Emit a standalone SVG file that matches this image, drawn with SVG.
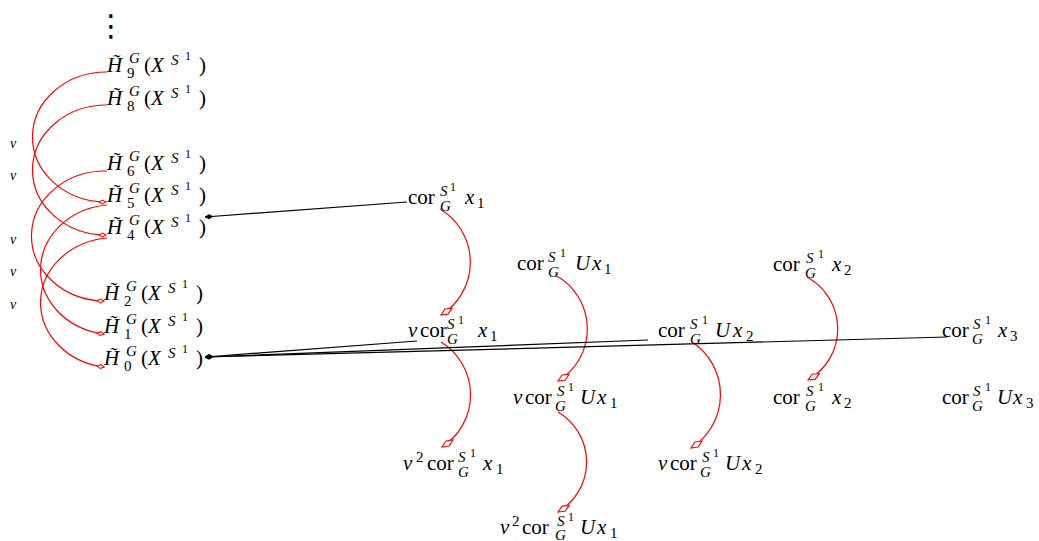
<svg xmlns="http://www.w3.org/2000/svg" width="1039" height="541" viewBox="0 0 1039 541">
<style>
text{font-family:"Liberation Serif","Times New Roman",serif;font-size:21px;fill:#000}
.i{font-style:italic}
.s{font-size:15px}
.ss{font-size:12px}
.v{font-size:14px;font-style:italic}
.redL{fill:none;stroke:#ff0000;stroke-width:1.2;marker-end:url(#rdS)}
.redR{fill:none;stroke:#ff0000;stroke-width:1.2;marker-end:url(#rdB)}
.blk{fill:none;stroke:#000;stroke-width:1.2;marker-end:url(#bd)}
</style>
<defs>
<marker id="rdS" markerUnits="userSpaceOnUse" viewBox="-9 -4 10 8" markerWidth="10" markerHeight="8" refX="0" refY="0" orient="auto"><path d="M0,0 L-3.5,-1.9 L-7,0 L-3.5,1.9 Z" fill="#fff" stroke="#ff0000" stroke-width="1"/></marker>
<marker id="rdB" markerUnits="userSpaceOnUse" viewBox="-15 -5 16 10" markerWidth="16" markerHeight="10" refX="0" refY="0" orient="auto"><path d="M0,0 L-6.5,-3 L-13,0 L-6.5,3 Z" fill="#fff" stroke="#ff0000" stroke-width="1.1"/></marker>
<marker id="bd" markerUnits="userSpaceOnUse" viewBox="-10 -4 11 8" markerWidth="11" markerHeight="8" refX="0" refY="0" orient="auto"><path d="M0,0 L-4,-2.3 L-8,0 L-4,2.3 Z" fill="#000" stroke="#000" stroke-width="0.5"/></marker>
</defs>

<g id="vdots"><text x="111" y="36" text-anchor="middle" style="font-family:'DejaVu Sans',sans-serif;font-size:30px">⋮</text></g>

<g id="vlabels">
<text class="v" x="10" y="148">v</text>
<text class="v" x="10" y="180">v</text>
<text class="v" x="10" y="244">v</text>
<text class="v" x="10" y="276">v</text>
<text class="v" x="10" y="309">v</text>
</g>

<g id="H9"><text><tspan x="107" y="72" class="i">H̃</tspan><tspan x="127" y="78" class="s">9</tspan><tspan x="129" y="63" class="s i">G</tspan><tspan x="144" y="72">(</tspan><tspan x="151" y="72" class="i">X</tspan><tspan x="171" y="65" class="s i">S</tspan><tspan x="185" y="60" class="ss">1</tspan><tspan x="199" y="72">)</tspan></text></g>
<g id="H8"><text><tspan x="107" y="105" class="i">H̃</tspan><tspan x="127" y="111" class="s">8</tspan><tspan x="129" y="96" class="s i">G</tspan><tspan x="144" y="105">(</tspan><tspan x="151" y="105" class="i">X</tspan><tspan x="171" y="98" class="s i">S</tspan><tspan x="185" y="93" class="ss">1</tspan><tspan x="199" y="105">)</tspan></text></g>
<g id="H6"><text><tspan x="107" y="170" class="i">H̃</tspan><tspan x="127" y="176" class="s">6</tspan><tspan x="129" y="161" class="s i">G</tspan><tspan x="144" y="170">(</tspan><tspan x="151" y="170" class="i">X</tspan><tspan x="171" y="163" class="s i">S</tspan><tspan x="185" y="158" class="ss">1</tspan><tspan x="199" y="170">)</tspan></text></g>
<g id="H5"><text><tspan x="107" y="202" class="i">H̃</tspan><tspan x="127" y="208" class="s">5</tspan><tspan x="129" y="193" class="s i">G</tspan><tspan x="144" y="202">(</tspan><tspan x="151" y="202" class="i">X</tspan><tspan x="171" y="195" class="s i">S</tspan><tspan x="185" y="190" class="ss">1</tspan><tspan x="199" y="202">)</tspan></text></g>
<g id="H4"><text><tspan x="107" y="234" class="i">H̃</tspan><tspan x="127" y="240" class="s">4</tspan><tspan x="129" y="225" class="s i">G</tspan><tspan x="144" y="234">(</tspan><tspan x="151" y="234" class="i">X</tspan><tspan x="171" y="227" class="s i">S</tspan><tspan x="185" y="222" class="ss">1</tspan><tspan x="199" y="234">)</tspan></text></g>
<g id="H2"><text><tspan x="104" y="300" class="i">H̃</tspan><tspan x="124" y="306" class="s">2</tspan><tspan x="126" y="291" class="s i">G</tspan><tspan x="141" y="300">(</tspan><tspan x="148" y="300" class="i">X</tspan><tspan x="168" y="293" class="s i">S</tspan><tspan x="182" y="288" class="ss">1</tspan><tspan x="196" y="300">)</tspan></text></g>
<g id="H1"><text><tspan x="104" y="333" class="i">H̃</tspan><tspan x="124" y="339" class="s">1</tspan><tspan x="126" y="324" class="s i">G</tspan><tspan x="141" y="333">(</tspan><tspan x="148" y="333" class="i">X</tspan><tspan x="168" y="326" class="s i">S</tspan><tspan x="182" y="321" class="ss">1</tspan><tspan x="196" y="333">)</tspan></text></g>
<g id="H0"><text><tspan x="104" y="365" class="i">H̃</tspan><tspan x="124" y="371" class="s">0</tspan><tspan x="126" y="356" class="s i">G</tspan><tspan x="141" y="365">(</tspan><tspan x="148" y="365" class="i">X</tspan><tspan x="168" y="358" class="s i">S</tspan><tspan x="182" y="353" class="ss">1</tspan><tspan x="196" y="365">)</tspan></text></g>

<g id="corx1"><text><tspan x="408" y="204">cor</tspan><tspan x="440" y="196" class="s i">S</tspan><tspan x="450" y="191" class="ss">1</tspan><tspan x="440" y="211" class="s i">G</tspan><tspan x="465" y="204" class="i">x</tspan><tspan x="477" y="208" class="s">1</tspan></text></g>
<g id="corUx1"><text><tspan x="517" y="270">cor</tspan><tspan x="548" y="262" class="s i">S</tspan><tspan x="560" y="257" class="ss">1</tspan><tspan x="548" y="277" class="s i">G</tspan><tspan x="575" y="270" class="i">U</tspan><tspan x="592" y="270" class="i">x</tspan><tspan x="604" y="274" class="s">1</tspan></text></g>
<g id="corx2a"><text><tspan x="773" y="271">cor</tspan><tspan x="806" y="263" class="s i">S</tspan><tspan x="818" y="258" class="ss">1</tspan><tspan x="805" y="278" class="s i">G</tspan><tspan x="832" y="271" class="i">x</tspan><tspan x="844" y="275" class="s">2</tspan></text></g>
<g id="vcorx1"><text><tspan x="408" y="337" class="i">v</tspan><tspan x="420" y="337">cor</tspan><tspan x="447" y="329" class="s i">S</tspan><tspan x="458" y="324" class="ss">1</tspan><tspan x="447" y="344" class="s i">G</tspan><tspan x="478" y="337" class="i">x</tspan><tspan x="490" y="341" class="s">1</tspan></text></g>
<g id="corUx2"><text><tspan x="658" y="337">cor</tspan><tspan x="690" y="329" class="s i">S</tspan><tspan x="702" y="324" class="ss">1</tspan><tspan x="690" y="344" class="s i">G</tspan><tspan x="715" y="337" class="i">U</tspan><tspan x="733" y="337" class="i">x</tspan><tspan x="746" y="341" class="s">2</tspan></text></g>
<g id="corx3"><text><tspan x="942" y="337">cor</tspan><tspan x="973" y="329" class="s i">S</tspan><tspan x="985" y="324" class="ss">1</tspan><tspan x="972" y="344" class="s i">G</tspan><tspan x="998" y="337" class="i">x</tspan><tspan x="1010" y="341" class="s">3</tspan></text></g>
<g id="vcorUx1"><text><tspan x="513" y="404" class="i">v</tspan><tspan x="525" y="404">cor</tspan><tspan x="557" y="396" class="s i">S</tspan><tspan x="568" y="391" class="ss">1</tspan><tspan x="555" y="411" class="s i">G</tspan><tspan x="580" y="404" class="i">U</tspan><tspan x="597" y="404" class="i">x</tspan><tspan x="610" y="408" class="s">1</tspan></text></g>
<g id="corx2b"><text><tspan x="773" y="404">cor</tspan><tspan x="806" y="396" class="s i">S</tspan><tspan x="818" y="391" class="ss">1</tspan><tspan x="805" y="411" class="s i">G</tspan><tspan x="832" y="404" class="i">x</tspan><tspan x="844" y="408" class="s">2</tspan></text></g>
<g id="corUx3"><text><tspan x="942" y="404">cor</tspan><tspan x="973" y="396" class="s i">S</tspan><tspan x="985" y="391" class="ss">1</tspan><tspan x="972" y="411" class="s i">G</tspan><tspan x="997" y="404" class="i">U</tspan><tspan x="1013" y="404" class="i">x</tspan><tspan x="1026" y="408" class="s">3</tspan></text></g>
<g id="v2corx1"><text><tspan x="403" y="470" class="i">v</tspan><tspan x="416" y="462" class="s">2</tspan><tspan x="427" y="470">cor</tspan><tspan x="458" y="462" class="s i">S</tspan><tspan x="470" y="457" class="ss">1</tspan><tspan x="458" y="477" class="s i">G</tspan><tspan x="483" y="470" class="i">x</tspan><tspan x="496" y="474" class="s">1</tspan></text></g>
<g id="vcorUx2"><text><tspan x="658" y="470" class="i">v</tspan><tspan x="670" y="470">cor</tspan><tspan x="702" y="462" class="s i">S</tspan><tspan x="713" y="457" class="ss">1</tspan><tspan x="700" y="477" class="s i">G</tspan><tspan x="725" y="470" class="i">U</tspan><tspan x="742" y="470" class="i">x</tspan><tspan x="755" y="474" class="s">2</tspan></text></g>
<g id="v2corUx1"><text><tspan x="500" y="534" class="i">v</tspan><tspan x="512" y="526" class="s">2</tspan><tspan x="522" y="534">cor</tspan><tspan x="557" y="526" class="s i">S</tspan><tspan x="568" y="521" class="ss">1</tspan><tspan x="555" y="540" class="s i">G</tspan><tspan x="580" y="534" class="i">U</tspan><tspan x="597" y="534" class="i">x</tspan><tspan x="610" y="538" class="s">1</tspan></text></g>

<g id="connectors">
<path class="redL" d="M107,72 A74,65 0 0 0 106,202"/>
<path class="redL" d="M107,105 A74,65 0 0 0 106,235"/>
<path class="redL" d="M107,171 A74,65 0 0 0 104,301"/>
<path class="redL" d="M107,205 A74,65 0 0 0 104,334"/>
<path class="redL" d="M107,238 A74,65 0 0 0 104,367"/>
<path class="redR" d="M440,209 A62,62 0 0 1 441,315"/>
<path class="redR" d="M441,342 A62,62 0 0 1 442,447"/>
<path class="redR" d="M555,275 A61,61 0 0 1 558,381"/>
<path class="redR" d="M558,412 A58,58 0 0 1 558,512"/>
<path class="redR" d="M807,277 A59,59 0 0 1 808,380"/>
<path class="redR" d="M692,342 A63,63 0 0 1 691,448"/>
<path class="blk" d="M407,202 L205,217"/>
<path class="blk" d="M417,341 L205,357"/>
<path class="blk" d="M648,340 L205,357"/>
<path class="blk" d="M947,337 L205,357"/>
</g>
</svg>
